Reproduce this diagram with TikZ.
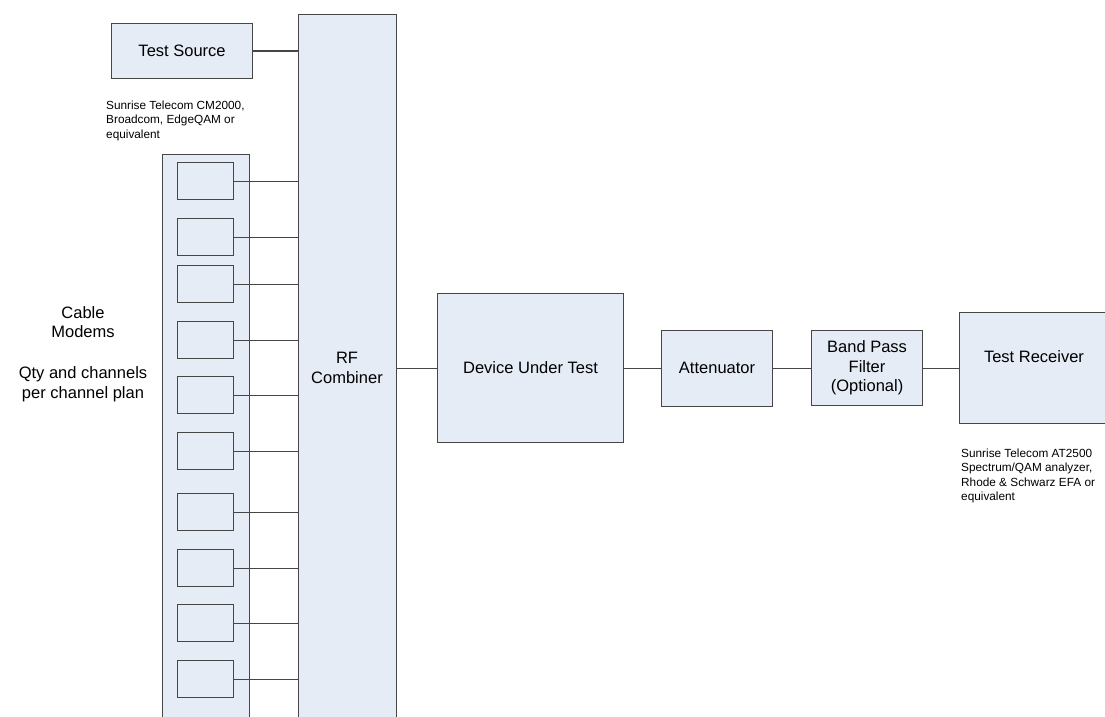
\documentclass[tikz,border=0pt]{standalone}
\usepackage{fontspec}
\setmainfont{Liberation Sans}
\definecolor{boxfill}{RGB}{229,236,246}
\definecolor{edge}{RGB}{70,70,70}
\begin{document}
\begin{tikzpicture}[x=1pt,y=-1pt,
  blk/.style={draw=edge,fill=boxfill,line width=1.1pt,rectangle,inner sep=0pt,anchor=north west,
    font=\fontsize{16.5}{19.5}\selectfont,align=center},
  modem/.style={draw=edge,fill=boxfill,line width=1.1pt,rectangle,inner sep=0pt,anchor=north west,
    minimum width=56pt,minimum height=37pt},
  lbl/.style={inner sep=0pt,font=\fontsize{16.5}{19.5}\selectfont,align=center},
  note/.style={inner sep=0pt,font=\fontsize{11.8}{14.5}\selectfont,align=left,anchor=north west},
  wire/.style={draw=edge,line width=1.1pt}]
\useasboundingbox (0,0) rectangle (1105,717);
\clip (0,0) rectangle (1105,717);
% RF combiner
\node[blk,minimum width=98pt,minimum height=730pt] (rf) at (298,14) {};
\node[lbl] (rflbl) at (347,368) {RF\\Combiner};
% Test source
\node[blk,minimum width=141pt,minimum height=55pt] (ts) at (111,23) {Test Source};
\node[note] (tsnote) at (106,100.5) {Sunrise Telecom CM2000,\\Broadcom, EdgeQAM or\\equivalent};
% cable modem column
\node[blk,minimum width=87pt,minimum height=600pt] (col) at (162,154) {};
\foreach \i/\t in {1/162,2/218,3/265,4/321,5/376,6/432,7/493,8/549,9/604,10/660}{
  \node[modem] (m\i) at (177,\t) {};
  \draw[wire] (m\i.east) -- (m\i.east -| rf.west);
}
\node[lbl] (cm) at (83,322) {Cable\\Modems};
\node[lbl] (qty) at (83,384) {Qty and channels\\per channel plan};
% chain
\node[blk,minimum width=186pt,minimum height=149pt] (dut) at (437,293) {Device Under Test};
\node[blk,minimum width=111pt,minimum height=76pt] (att) at (661,329.5) {Attenuator};
\node[blk,minimum width=111pt,minimum height=75pt] (bpf) at (811,330) {Band Pass\\Filter\\(Optional)};
\node[blk,minimum width=160pt,minimum height=111pt] (tr) at (959,312) {};
\node[lbl] (trlbl) at (1034,357) {Test Receiver};
\node[note] (trnote) at (961,448.5) {Sunrise Telecom AT2500\\Spectrum/QAM analyzer,\\Rhode \& Schwarz EFA or\\equivalent};
% connectors
\draw[wire] (ts.east) -- (ts.east -| rf.west);
\draw[wire] (dut.west -| rf.east) -- (dut.west);
\draw[wire] (dut.east) -- (dut.east -| att.west);
\draw[wire] (att.east) -- (att.east -| bpf.west);
\draw[wire] (bpf.east) -- (bpf.east -| tr.west);
\end{tikzpicture}
\end{document}
